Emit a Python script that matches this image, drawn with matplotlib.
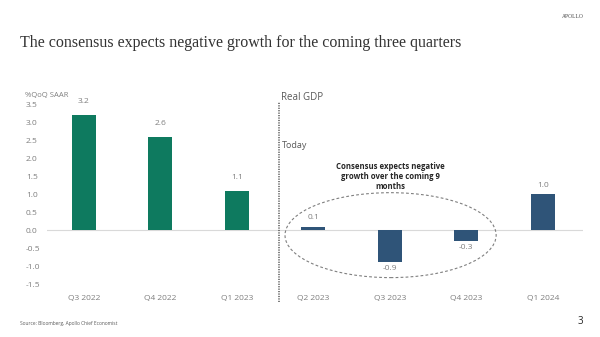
import matplotlib
matplotlib.use("Agg")
import matplotlib.pyplot as plt
from matplotlib.patches import Ellipse

# Real GDP, %QoQ SAAR
quarters = ["Q3 2022", "Q4 2022", "Q1 2023", "Q2 2023", "Q3 2023", "Q4 2023", "Q1 2024"]
actual_values = [3.2, 2.6, 1.1]
consensus_values = [0.1, -0.9, -0.3, 1.0]
y_ticks = [3.5, 3.0, 2.5, 2.0, 1.5, 1.0, 0.5, 0.0, -0.5, -1.0, -1.5]

GREEN = "#0E7A5F"
BLUE = "#2F5478"
GRAY = "#7F7F7F"
SANS = ["Open Sans", "DejaVu Sans"]

fig = plt.figure(figsize=(6.0, 3.37), dpi=100)
ax = fig.add_axes([0.078, 0.157, 0.893, 0.534])

n_act = len(actual_values)
x_act = list(range(n_act))
x_cons = list(range(n_act, n_act + len(consensus_values)))
bar_w = 0.31

ax.bar(x_act, actual_values, width=bar_w, color=GREEN, zorder=3)
ax.bar(x_cons, consensus_values, width=bar_w, color=BLUE, zorder=3)

ax.axhline(0, color="#D9D9D9", lw=0.8, zorder=1)

# value labels
for x, v in zip(x_act, actual_values):
    ax.annotate(f"{v:.1f}", (x, v), xytext=(0, 7), textcoords="offset points",
                ha="center", va="bottom", fontsize=6, color=GRAY, family=SANS)
for x, v in zip(x_cons, consensus_values):
    if v >= 0:
        ax.annotate(f"{v:.1f}", (x, v), xytext=(0, 4), textcoords="offset points",
                    ha="center", va="bottom", fontsize=6, color=GRAY, family=SANS)
    else:
        ax.annotate(f"{v:.1f}", (x, v), xytext=(0, -2), textcoords="offset points",
                    ha="center", va="top", fontsize=6, color=GRAY, family=SANS)

ax.set_xlim(-0.484, 6.52)
ax.set_ylim(-1.5, 3.5)
ax.set_yticks(y_ticks)
ax.set_yticklabels([f"{t:.1f}" for t in y_ticks], family=SANS, fontsize=6, color=GRAY, ha="left")
ax.set_xticks(range(len(quarters)))
ax.set_xticklabels(quarters, family=SANS, fontsize=6, color=GRAY)
ax.tick_params(axis="y", length=0, pad=15)
ax.tick_params(axis="x", length=0, pad=8)
for s in ax.spines.values():
    s.set_visible(False)

# divider between history and consensus
ax.axvline(2.55, ymin=-0.1, ymax=1.01, color="#595959", lw=1.1,
           linestyle=(0, (0.8, 0.8)), clip_on=False)

# consensus ellipse
ax.add_patch(Ellipse((4.01, -0.14), 2.76, 2.36, fill=False, edgecolor="#7F7F7F",
                     lw=0.8, linestyle=(0, (2.5, 2)), zorder=4))

ax.text(2.59, 2.35, "Today", fontsize=6.5, color="#595959", family=SANS, va="center")
ax.text(4.01, 1.5, "Consensus expects negative\ngrowth over the coming 9\nmonths",
        fontsize=5.6, fontweight="bold", color="#262626", family=SANS,
        ha="center", va="center", linespacing=1.15)

fig.text(281 / 600, 1 - 97 / 337, "Real GDP", fontsize=7, color="#595959",
         family=SANS, va="center")
fig.text(25 / 600, 1 - 95 / 337, "%QoQ SAAR", fontsize=5.5, color=GRAY,
         family=SANS, va="center")

fig.text(20 / 600, 1 - 43 / 337,
         "The consensus expects negative growth for the coming three quarters",
         fontsize=11.5, color="#333333", family=["Liberation Serif", "DejaVu Serif"],
         va="center")
fig.text(584 / 600, 1 - 17 / 337, "APOLLO", fontsize=4, color="#404040",
         family=["Liberation Serif", "DejaVu Serif"], ha="right", va="center")
fig.text(20 / 600, 1 - 323 / 337, "Source: Bloomberg, Apollo Chief Economist",
         fontsize=3.5, color="#595959", family=SANS, va="center")
fig.text(583 / 600, 1 - 322 / 337, "3", fontsize=7, color="#262626",
         family=SANS, ha="right", va="center")

fig.savefig("out.png", dpi=100, facecolor="white")
